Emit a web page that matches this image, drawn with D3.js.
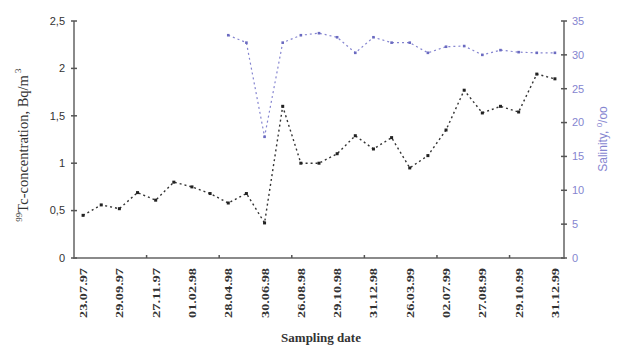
<!DOCTYPE html>
<html>
<head>
<meta charset="utf-8">
<script src="https://cdn.jsdelivr.net/npm/d3@7"></script>
<style>
body { margin: 0; background: #fff; }
svg { display: block; }
</style>
</head>
<body>
<div id="chart"></div>
<script>
// sampling dates shown under the axis (every second sample)
const dateLabels = ['23.07.97', '29.09.97', '27.11.97', '01.02.98', '28.04.98', '30.06.98', '26.08.98',
	'29.10.98', '31.12.98', '26.03.99', '02.07.99', '27.08.99', '29.10.99', '31.12.99'];

// 99Tc concentration, Bq/m3 (one value per sample)
const tcValues = [0.45, 0.56, 0.52, 0.69, 0.61, 0.80, 0.75, 0.68, 0.58, 0.68, 0.37, 1.60, 1.00, 1.00,
	1.10, 1.29, 1.15, 1.27, 0.95, 1.08, 1.35, 1.77, 1.53, 1.60, 1.54, 1.94, 1.89];

// salinity, per mille (starts at sample 8)
const salStart = 8;
const salValues = [32.9, 31.8, 17.9, 31.8, 32.9, 33.2, 32.6, 30.3, 32.6, 31.8, 31.8,
	30.3, 31.2, 31.3, 30.0, 30.7, 30.4, 30.3, 30.3];

const leftTicks = [0, 0.5, 1, 1.5, 2, 2.5];
const rightTicks = [0, 5, 10, 15, 20, 25, 30, 35];

const W = 621, H = 349;
const margin = {top: 21, right: 57, bottom: 91, left: 74};
const width = W - margin.left - margin.right;
const height = H - margin.top - margin.bottom;

const axisColor = '#8a8a8a';
const blue = '#8585d0';

const svg = d3.select('#chart').append('svg')
	.attr('width', W).attr('height', H);
const g = svg.append('g')
	.attr('transform', `translate(${margin.left},${margin.top})`);

const n = tcValues.length;
const x = d3.scaleLinear().domain([-0.5, n - 0.5]).range([0, width]);
const y = d3.scaleLinear().domain([0, 2.5]).range([height, 0]);
const y2 = d3.scaleLinear().domain([0, 35]).range([height, 0]);

// axes lines
g.append('line').attr('x1', 0).attr('x2', 0).attr('y1', 0).attr('y2', height)
	.attr('stroke', axisColor).attr('stroke-width', 2);
g.append('line').attr('x1', width).attr('x2', width).attr('y1', 0).attr('y2', height)
	.attr('stroke', axisColor).attr('stroke-width', 2);
g.append('line').attr('x1', -1).attr('x2', width + 1).attr('y1', height).attr('y2', height)
	.attr('stroke', axisColor).attr('stroke-width', 2);

// left ticks
const lt = g.append('g').selectAll('g').data(leftTicks).join('g')
	.attr('transform', d => `translate(0,${y(d)})`);
lt.append('line').attr('x1', -3).attr('x2', 3).attr('stroke', '#555').attr('stroke-width', 1.5);
lt.append('text').attr('x', -9).attr('dy', '0.35em').attr('text-anchor', 'end')
	.style('font', '11px "Liberation Sans Narrow", "Liberation Sans", sans-serif').attr('fill', '#333')
	.text(d => String(d).replace('.', ','));

// right ticks
const rt = g.append('g').selectAll('g').data(rightTicks).join('g')
	.attr('transform', d => `translate(${width},${y2(d)})`);
rt.append('line').attr('x1', -3).attr('x2', 3).attr('stroke', '#555').attr('stroke-width', 1.5);
rt.append('text').attr('x', 8).attr('dy', '0.35em').attr('text-anchor', 'start')
	.style('font', '11px "Liberation Sans", sans-serif').attr('fill', blue)
	.text(d => d);

// x minor ticks every 4 samples
const xTicks = d3.range(3.5, n - 1, 4);
g.append('g').selectAll('line').data(xTicks).join('line')
	.attr('x1', d => x(d)).attr('x2', d => x(d))
	.attr('y1', height).attr('y2', height - 3)
	.attr('stroke', '#555').attr('stroke-width', 1.5);

// x labels, rotated
g.append('g').selectAll('text').data(dateLabels).join('text')
	.attr('transform', (d, i) => `translate(${x(i * 2) + 4},${height + 10}) rotate(-90)`)
	.attr('text-anchor', 'end')
	.style('font', 'bold 11px "Liberation Serif", serif').attr('fill', '#333')
	.attr('textLength', 50).attr('lengthAdjust', 'spacingAndGlyphs')
	.text(d => d);

// series
const line = d3.line().x(d => x(d[0])).y(d => d[1]);

const tcPts = tcValues.map((v, i) => [i, y(v)]);
const salPts = salValues.map((v, i) => [i + salStart, y2(v)]);

g.append('path').attr('d', line(salPts))
	.attr('fill', 'none').attr('stroke', blue).attr('stroke-width', 1.2)
	.attr('stroke-dasharray', '2,3');
g.append('g').selectAll('rect').data(salPts).join('rect')
	.attr('x', d => x(d[0]) - 1.3).attr('y', d => d[1] - 1.3)
	.attr('width', 2.6).attr('height', 2.6).attr('fill', '#6a6ac0');

g.append('path').attr('d', line(tcPts))
	.attr('fill', 'none').attr('stroke', '#333').attr('stroke-width', 1.4)
	.attr('stroke-dasharray', '2,3');
g.append('g').selectAll('rect').data(tcPts).join('rect')
	.attr('x', d => x(d[0]) - 1.5).attr('y', d => d[1] - 1.5)
	.attr('width', 3).attr('height', 3).attr('fill', '#222');

// axis titles
const lTitle = svg.append('text')
	.attr('transform', `translate(28,145) rotate(-90)`)
	.attr('text-anchor', 'middle')
	.style('font', '14.5px "Liberation Serif", serif').attr('fill', '#333');
lTitle.append('tspan').attr('font-size', '9px').attr('dy', '-6').text('99');
lTitle.append('tspan').attr('dy', '6').text('Tc-concentration, Bq/m');
lTitle.append('tspan').attr('font-size', '9px').attr('dy', '-7').text(' 3');

const rTitle = svg.append('text')
	.attr('transform', `translate(607,139) rotate(-90)`)
	.attr('text-anchor', 'middle')
	.style('font', '12px "Liberation Sans", sans-serif').attr('fill', blue);
rTitle.append('tspan').text('Salinity, ');
rTitle.append('tspan').attr('font-size', '8px').attr('dy', '-5').text('0');
rTitle.append('tspan').attr('dy', '5').text('/oo');

svg.append('text')
	.attr('x', margin.left + width / 2 + 2).attr('y', 342)
	.attr('text-anchor', 'middle')
	.style('font', 'bold 13px "Liberation Serif", serif').attr('fill', '#333')
	.text('Sampling date');
</script>
</body>
</html>
